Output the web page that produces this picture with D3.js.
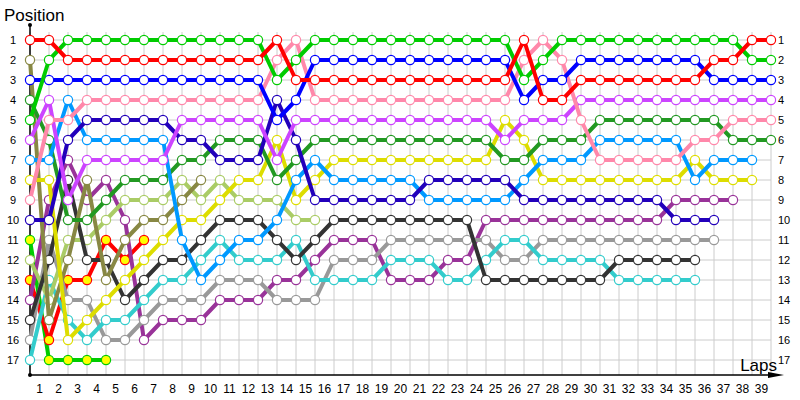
<!DOCTYPE html>
<html><head><meta charset="utf-8">
<script src="https://cdn.jsdelivr.net/npm/d3@7"></script>
<style>body{margin:0;background:#fff}svg{display:block}text{font-family:"Liberation Sans",Arial,sans-serif}</style>
</head><body><svg id="c" width="800" height="400"></svg>
<script>
const laps = d3.range(0, 40);
const lapLabels = d3.range(1, 40);
const positions = d3.range(1, 18);

const names = ["red","green","blue","pink","violet","darkblue","sky","darkgreen","yellow","olive","darkgray","lightgreen","turquoise","gray","darkpurple","redyellow","greenyellow"];
const lineColors = ["#ff0000","#00cc00","#0000ff","#ff88aa","#cc44ff","#2200bb","#0099ff","#229922","#dddd00","#888844","#333333","#aacc66","#33cccc","#999999","#993399","#ff0000","#00cc00"];
const fillColors = ["#fff","#fff","#fff","#fff","#fff","#fff","#fff","#fff","#fff","#fff","#fff","#fff","#fff","#fff","#fff","#ffff00","#ffff00"];

const red        = [1,1,2,2,2,2,2,2,2,2,2,2,2,1,3,3,3,3,3,3,3,3,3,3,3,3,1,4,4,3,3,3,3,3,3,3,2,2,1,1];
const green      = [5,2,1,1,1,1,1,1,1,1,1,1,1,3,2,1,1,1,1,1,1,1,1,1,1,1,3,2,1,1,1,1,1,1,1,1,1,1,2,2];
const blue       = [3,3,3,3,3,3,3,3,3,3,3,3,3,5,4,2,2,2,2,2,2,2,2,2,2,2,4,3,3,2,2,2,2,2,2,2,3,3,3,3];
const pink       = [9,5,5,4,4,4,4,4,4,4,4,4,4,2,1,4,4,4,4,4,4,4,4,4,4,4,2,1,2,5,7,7,7,7,7,6,6,5,5,5];
const violet     = [6,4,9,7,7,7,7,7,5,5,5,5,5,7,5,5,5,5,5,5,5,5,5,5,5,6,5,5,5,4,4,4,4,4,4,4,4,4,4,4];
const darkblue   = [10,10,6,5,5,5,5,5,6,6,7,7,7,4,6,9,9,9,9,9,9,8,8,8,8,8,9,9,9,9,9,9,9,9,10,10,10];
const sky        = [7,7,4,6,6,6,6,6,11,13,12,11,11,10,8,7,8,8,8,8,8,9,9,9,9,9,8,7,7,7,6,6,6,6,6,8,7,7,7];
const darkgreen  = [4,6,10,10,9,8,8,8,7,7,6,6,6,8,7,6,6,6,6,6,6,6,6,6,6,7,7,6,6,6,5,5,5,5,5,5,5,6,6,6];
const yellow     = [8,8,16,15,14,13,12,11,10,10,9,8,8,6,9,8,7,7,7,7,7,7,7,7,7,5,6,8,8,8,8,8,8,8,8,7,8,8,8];
const olive      = [2,15,12,8,13,11,10,10,9,8];
const darkgray   = [15,12,8,12,12,14,13,12,12,11,10,10,10,11,12,11,10,10,10,10,10,10,10,10,13,13,13,13,13,13,13,12,12,12,12,12];
const lightgreen = [12,14,11,11,10,9,9,9,8,9,8,9,9,9,10,10];
const turquoise  = [17,13,15,16,15,15,14,13,13,12,11,12,12,12,11,13,13,13,13,12,12,12,13,13,12,11,11,12,12,12,12,13,13,13,13,13];
const gray       = [16,11,14,14,16,16,15,14,14,14,13,13,13,14,14,14,12,12,12,11,11,11,11,11,11,12,12,11,11,11,11,11,11,11,11,11,11];
const darkpurple = [14,9,7,9,8,10,16,15,15,15,14,14,14,13,13,12,11,11,11,13,13,13,12,12,10,10,10,10,10,10,10,10,10,10,9,9,9,9];
const redyellow  = [13,16,13,13,11,12,11];
const greenyellow= [11,17,17,17,17];

const seriesValues = [red,green,blue,pink,violet,darkblue,sky,darkgreen,yellow,olive,darkgray,lightgreen,turquoise,gray,darkpurple,redyellow,greenyellow];

const svg = d3.select("#c");
const x = d3.scaleLinear().domain([0, 39]).range([30, 771]);
const y = d3.scaleLinear().domain([1, 17]).range([40, 360]);
const axisY = 375;

// grid
const g = svg.append("g");
g.selectAll("line.v").data(laps).join("line")
  .attr("x1", d => x(d)).attr("x2", d => x(d))
  .attr("y1", 32).attr("y2", axisY)
  .attr("stroke", "#cccccc").attr("stroke-width", 1);
g.selectAll("line.h").data(positions).join("line")
  .attr("x1", x(0)).attr("x2", x(39))
  .attr("y1", d => y(d)).attr("y2", d => y(d))
  .attr("stroke", "#cccccc").attr("stroke-width", 1);

// axes
svg.append("line").attr("x1", x(0)).attr("x2", x(0)).attr("y1", 25).attr("y2", axisY).attr("stroke", "#000").attr("stroke-width", 1.5);
svg.append("circle").attr("cx", x(0)).attr("cy", 25).attr("r", 2).attr("fill", "#000");
svg.append("circle").attr("cx", x(0)).attr("cy", axisY).attr("r", 2).attr("fill", "#000");
svg.append("line").attr("x1", x(0)).attr("x2", 778).attr("y1", axisY).attr("y2", axisY).attr("stroke", "#000").attr("stroke-width", 1.5);
svg.append("path").attr("d", `M768,${axisY-3} L784,${axisY} L768,${axisY+3} Z`).attr("fill", "#000");

// tick labels
svg.append("g").selectAll("text").data(lapLabels).join("text")
  .attr("x", d => x(d - 0.5)).attr("y", 393)
  .attr("text-anchor", "middle").attr("font-size", 12).attr("fill", "#000")
  .text(d => d);
svg.append("g").selectAll("text").data(positions).join("text")
  .attr("x", 13).attr("y", d => y(d) + 4)
  .attr("text-anchor", "middle").attr("font-size", 11).attr("fill", "#000")
  .text(d => d);
svg.append("g").selectAll("text").data(positions).join("text")
  .attr("x", 778).attr("y", d => y(d) + 4)
  .attr("text-anchor", "start").attr("font-size", 11).attr("fill", "#000")
  .text(d => d);

svg.append("text").attr("x", 4).attr("y", 21).attr("font-size", 17).attr("fill", "#000").text("Position");
svg.append("text").attr("x", 777).attr("y", 371).attr("text-anchor", "end").attr("font-size", 17).attr("fill", "#000").text("Laps");

// series
const line = d3.line().x((d, i) => x(i)).y(d => y(d));
const order = d3.range(seriesValues.length).reverse();
order.forEach(i => {
  const vals = seriesValues[i];
  const sg = svg.append("g").attr("class", names[i]);
  sg.append("path").attr("d", line(vals)).attr("fill", "none")
    .attr("stroke", lineColors[i]).attr("stroke-width", 4).attr("stroke-linejoin", "round");
  sg.selectAll("circle").data(vals).join("circle")
    .attr("cx", (d, j) => x(j)).attr("cy", d => y(d)).attr("r", 4.6)
    .attr("fill", fillColors[i]).attr("stroke", lineColors[i]).attr("stroke-width", 1.2);
});
</script></body></html>
